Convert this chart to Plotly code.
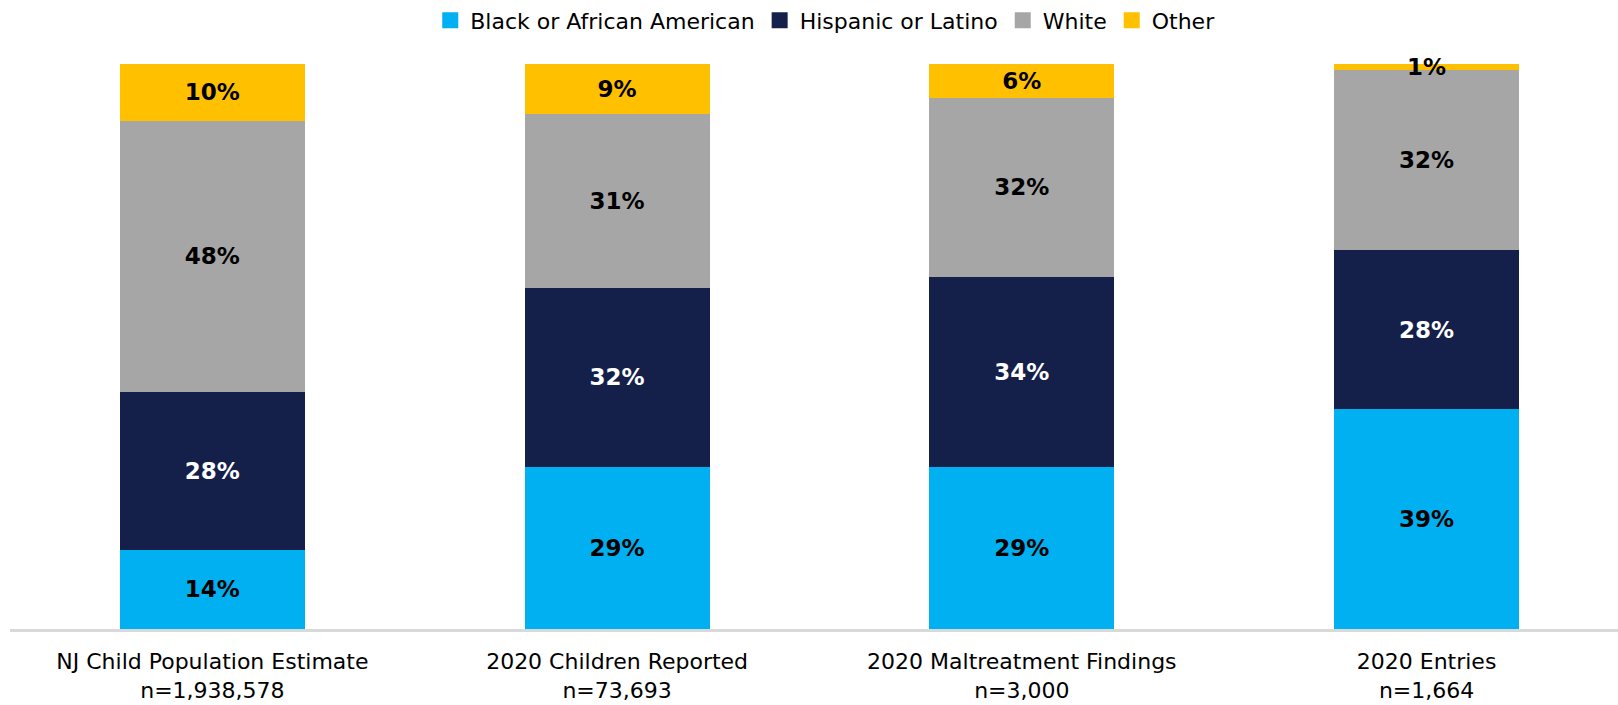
import plotly.graph_objects as go

categories = ["NJ Child Population Estimate<br>n=1,938,578",
              "2020 Children Reported<br>n=73,693",
              "2020 Maltreatment Findings<br>n=3,000",
              "2020 Entries<br>n=1,664"]
black = [14, 29, 29, 39]
hispanic = [28, 32, 34, 28]
white = [48, 31, 32, 32]
other = [10, 9, 6, 1]

series = [
    ("Black or African American", black, "#00B0F0", "#000000"),
    ("Hispanic or Latino", hispanic, "#14204A", "#FFFFFF"),
    ("White", white, "#A6A6A6", "#000000"),
    ("Other", other, "#FFC000", "#000000"),
]

FONT = "DejaVu Sans"
fig = go.Figure()
for name, vals, color, tcolor in series:
    fig.add_trace(go.Bar(
        name=name, x=list(range(len(categories))), y=vals,
        marker=dict(color=color, line=dict(width=0)),
        text=[f"{v}%" for v in vals],
        textposition="inside", insidetextanchor="middle", textangle=0,
        constraintext="none", cliponaxis=False, showlegend=False,
        textfont=dict(family=FONT, size=23, color=tcolor, weight="bold"),
    ))
# legend entries
for name, vals, color, tcolor in series:
    fig.add_trace(go.Scatter(
        name=name, x=[None], y=[None], mode="markers",
        marker=dict(symbol="square", size=16, color=color),
        showlegend=True,
    ))

fig.update_layout(
    barmode="stack", barnorm="percent", bargap=0.543,
    width=1618, height=705,
    margin=dict(l=10, r=0, t=64, b=76, autoexpand=False),
    paper_bgcolor="white", plot_bgcolor="white",
    font=dict(family=FONT, color="#000000"),
    showlegend=True,
    legend=dict(orientation="h", x=0.507, xanchor="center", y=1.04, yanchor="bottom",
                font=dict(family=FONT, size=22, color="#000000"),
                traceorder="normal", itemwidth=30, itemsizing="trace"),
    xaxis=dict(tickmode="array", tickvals=list(range(len(categories))), ticktext=categories,
               range=[-0.5, 3.473], showline=True, linecolor="#D9D9D9", linewidth=3,
               showgrid=False, zeroline=False, ticks="",
               tickfont=dict(family=FONT, size=22, color="#000000"),
               ticklabelstandoff=11),
    yaxis=dict(range=[0, 100], visible=False, showgrid=False, zeroline=False),
)
fig.write_html("out.html")
